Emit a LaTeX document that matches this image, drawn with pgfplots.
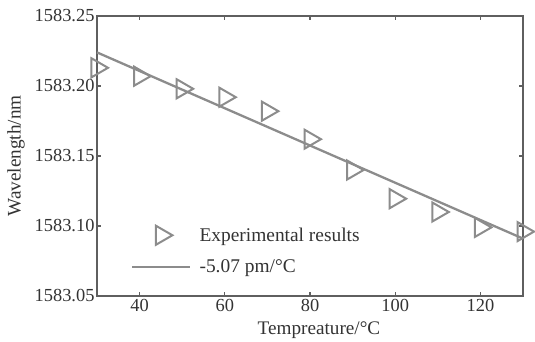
\documentclass[border=0pt]{standalone}
\usepackage{fontspec}
\setmainfont{Liberation Serif}
\usepackage{pgfplots}
\pgfplotsset{compat=1.18}
\definecolor{dgray}{RGB}{140,140,140}
\definecolor{fgray}{RGB}{95,95,95}
\pgfplotsset{
  legmark/.style={legend image code/.code={\draw[##1] plot coordinates {(29pt,0pt)};}},
  legline/.style={legend image code/.code={\draw[##1] (0pt,0pt) -- (58pt,0pt);}},
}
\begin{document}
\begin{tikzpicture}
\useasboundingbox (-97pt,-46pt) rectangle (438pt,296pt);
\begin{axis}[
  at={(0pt,0pt)}, anchor=south west,
  scale only axis, width=426pt, height=280pt,
  xmin=30, xmax=130, ymin=1583.05, ymax=1583.25,
  xtick={40,60,80,100,120},
  ytick={1583.05,1583.10,1583.15,1583.20,1583.25},
  tick align=inside,
  major tick length=4pt,
  axis line style={fgray, line width=1.4pt},
  every tick/.style={fgray, line width=1.1pt},
  /pgf/number format/assume math mode=true,
  /pgf/number format/1000 sep={},
  yticklabel style={/pgf/number format/fixed, /pgf/number format/fixed zerofill, /pgf/number format/precision=2, xshift=1pt},
  ticklabel style={font=\fontsize{18.4}{21}\selectfont, text=black!80},
  label style={font=\fontsize{19.2}{22}\selectfont, text=black!80},
  xlabel={Tempreature/°C},
  ylabel={Wavelength/nm},
  xlabel style={at={(axis description cs:0.521,-0.122)}, anchor=center},
  ylabel style={at={(axis description cs:-0.19,0.5)}, anchor=center},
  clip=false,
  legend style={draw=none, fill=none, font=\fontsize{19.4}{22}\selectfont, text=black!80,
    at={(axis description cs:0.08,0.07)}, anchor=south west, row sep=13pt, inner sep=0pt},
  legend cell align=left,
]
\addplot[only marks, mark=triangle, mark size=11pt, mark options={rotate=-90, dgray, line width=2pt, fill=none}, legmark]
  coordinates {
  (30,1583.213) (40,1583.207) (50,1583.198) (60,1583.192) (70,1583.182)
  (80,1583.162) (90,1583.140) (100,1583.1195) (110,1583.110) (120,1583.099) (130,1583.096)
  };
\addlegendentry{\hspace{6pt}Experimental results}
\addplot[dgray, line width=2.3pt, no marks, legline]
  coordinates {(30,1583.224) (130,1583.091)};
\addlegendentry{\hspace{6pt}-5.07 pm/°C}
\end{axis}
\end{tikzpicture}
\end{document}
